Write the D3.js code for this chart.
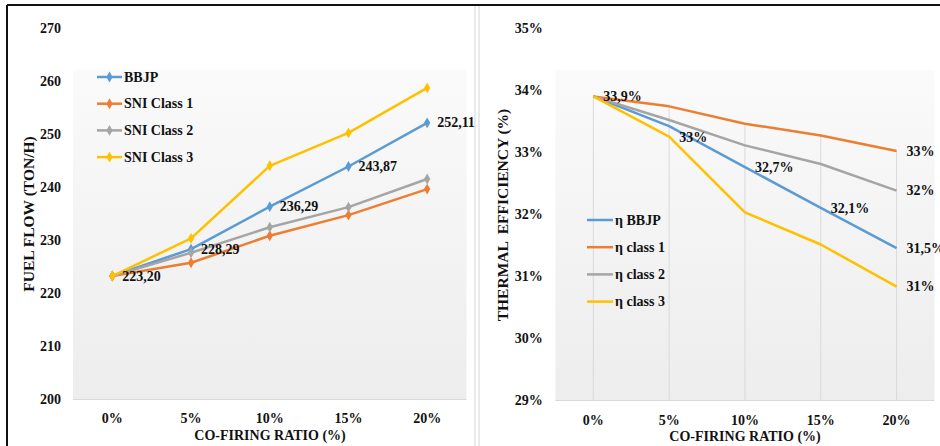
<!DOCTYPE html>
<html>
<head>
<meta charset="utf-8">
<script src="https://cdn.jsdelivr.net/npm/d3@7"></script>
<style>
  body { margin: 0; background: #fff; }
  text { font-family: "Liberation Serif", "Times New Roman", serif; font-weight: bold; fill: #111; }
</style>
</head>
<body>
<div class="chart"></div>
<script>
// categories and values
var categories = ["0%", "5%", "10%", "15%", "20%"];

var fuelNames = ["BBJP", "SNI Class 1", "SNI Class 2", "SNI Class 3"];
var fuelBBJP   = [223.20, 228.29, 236.29, 243.87, 252.11];
var fuelClass1 = [223.20, 225.7, 230.8, 234.7, 239.6];
var fuelClass2 = [223.20, 227.6, 232.4, 236.2, 241.5];
var fuelClass3 = [223.20, 230.3, 244.0, 250.2, 258.7];
var fuelTicks  = [200, 210, 220, 230, 240, 250, 260, 270];
var fuelLabels = ["223,20", "228,29", "236,29", "243,87", "252,11"];

var effNames  = ["η BBJP", "η class 1", "η class 2", "η class 3"];
var effBBJP   = [33.90, 33.42, 32.76, 32.10, 31.45];
var effClass1 = [33.90, 33.74, 33.46, 33.27, 33.02];
var effClass2 = [33.90, 33.52, 33.11, 32.81, 32.38];
var effClass3 = [33.90, 33.25, 32.03, 31.51, 30.83];
var effTicks  = [29, 30, 31, 32, 33, 34, 35];
// [series, category, text]
var effLabels = [[0, 0, "33,9%"], [0, 1, "33%"], [0, 2, "32,7%"], [0, 3, "32,1%"], [0, 4, "31,5%"],
                 [1, 4, "33%"], [2, 4, "32%"], [3, 4, "31%"]];

var colors = ["#5B9BD5", "#ED7D31", "#A5A5A5", "#FFC000"];

var width = 940, height = 446;

var svg = d3.select(".chart")
    .append("svg")
    .attr("width", width)
    .attr("height", height);

// plot background gradient
var defs = svg.append("defs");
var grad = defs.append("linearGradient")
    .attr("id", "plotbg")
    .attr("x1", 0).attr("y1", 0).attr("x2", 0).attr("y2", 1);
grad.append("stop").attr("offset", "0%").attr("stop-color", "#ffffff");
grad.append("stop").attr("offset", "11%").attr("stop-color", "#ffffff");
grad.append("stop").attr("offset", "11.5%").attr("stop-color", "#fafafa");
grad.append("stop").attr("offset", "100%").attr("stop-color", "#ededed");

//frame lines
svg.append("line").attr("x1", 7).attr("x2", 940).attr("y1", 5).attr("y2", 5)
    .attr("stroke", "#111").attr("stroke-width", 2);
svg.append("line").attr("x1", 7).attr("x2", 7).attr("y1", 5).attr("y2", 446)
    .attr("stroke", "#111").attr("stroke-width", 2);
[475, 479].forEach(function(x) {
    svg.append("line").attr("x1", x).attr("x2", x).attr("y1", 6).attr("y2", 446)
        .attr("stroke", "#d4d4d4").attr("stroke-width", 1);
});

function drawPanel(cfg) {
    var g = svg.append("g");

    var x = d3.scaleBand().domain(categories).range([cfg.left, cfg.right]);
    var y = d3.scaleLinear().domain(cfg.domain).range([cfg.bottom, cfg.top]);
    var cx = function(c) { return x(c) + x.bandwidth() / 2; };

    g.append("rect")
        .attr("x", cfg.left).attr("y", cfg.top)
        .attr("width", cfg.right - cfg.left).attr("height", cfg.bottom - cfg.top)
        .attr("fill", "url(#plotbg)");

    // drop lines (right chart only)
    if (cfg.dropLines) {
        categories.forEach(function(c, i) {
            var top = d3.max(cfg.series, function(s) { return s[i]; });
            g.append("line")
                .attr("x1", cx(c)).attr("x2", cx(c))
                .attr("y1", y(top)).attr("y2", cfg.bottom)
                .attr("stroke", "#d9d9d9").attr("stroke-width", 1);
        });
    }

    // baseline
    g.append("line")
        .attr("x1", cfg.left).attr("x2", cfg.right)
        .attr("y1", cfg.bottom + 0.5).attr("y2", cfg.bottom + 0.5)
        .attr("stroke", "#d9d9d9").attr("stroke-width", 1);

    // axes
    var yAxis = g.append("g")
        .attr("transform", "translate(" + cfg.left + ",0)")
        .call(d3.axisLeft(y).tickValues(cfg.ticks).tickSize(0).tickPadding(cfg.yPad).tickFormat(cfg.tickFormat));
    yAxis.select(".domain").remove();
    yAxis.selectAll("text").attr("font-size", 14).attr("fill", "#111")
        .style("font-family", "'Liberation Serif', serif").style("font-weight", "bold");

    var xAxis = g.append("g")
        .attr("transform", "translate(0," + cfg.bottom + ")")
        .call(d3.axisBottom(x).tickSize(0).tickPadding(cfg.xPad));
    xAxis.select(".domain").remove();
    xAxis.selectAll("text").attr("font-size", 14).attr("fill", "#111")
        .style("font-family", "'Liberation Serif', serif").style("font-weight", "bold");

    // titles
    g.append("text")
        .attr("x", cfg.xTitle[0]).attr("y", cfg.xTitle[1])
        .attr("text-anchor", "middle").attr("font-size", 14)
        .text("CO-FIRING RATIO (%)");
    g.append("text")
        .attr("transform", "translate(" + cfg.yTitle[0] + "," + cfg.yTitle[1] + ") rotate(-90)")
        .attr("text-anchor", "middle").attr("dy", "0.33em").attr("font-size", 15.5)
        .attr("xml:space", "preserve")
        .text(cfg.yTitleText);

    // lines
    var line = d3.line()
        .x(function(d, i) { return cx(categories[i]); })
        .y(function(d) { return y(d); });

    cfg.series.forEach(function(s, k) {
        g.append("path")
            .attr("d", line(s))
            .attr("fill", "none")
            .attr("stroke", colors[k])
            .attr("stroke-width", 2.5)
            .attr("stroke-linejoin", "round");
        if (cfg.markers) {
            g.selectAll(".m" + k)
                .data(s)
                .enter()
                .append("path")
                .attr("d", d3.symbol(d3.symbolDiamond).size(34))
                .attr("transform", function(d, i) { return "translate(" + cx(categories[i]) + "," + y(d) + ")"; })
                .attr("fill", colors[k]);
        }
    });

    // data labels
    cfg.labels.forEach(function(l) {
        var v = cfg.series[l[0]][l[1]];
        var nudge = (cfg.dropLines && l[0] === 0 && l[1] === 1) ? 11 : 0;
        g.append("text")
            .attr("x", cx(categories[l[1]]) + 10)
            .attr("y", y(v) + nudge)
            .attr("dy", "0.33em")
            .attr("font-size", 14)
            .text(l[2]);
    });

    // legend
    var legend = g.selectAll(".entry")
        .data(cfg.names)
        .enter()
        .append("g")
        .attr("transform", function(d, i) { return "translate(" + cfg.legend[0] + "," + (cfg.legend[1] + i * cfg.legend[2]) + ")"; });
    legend.append("line")
        .attr("x1", 0).attr("x2", cfg.legendLine)
        .attr("stroke", function(d, i) { return colors[i]; })
        .attr("stroke-width", 2.5);
    if (cfg.markers) {
        legend.append("path")
            .attr("d", d3.symbol(d3.symbolDiamond).size(34))
            .attr("transform", "translate(" + cfg.legendLine / 2 + ",0)")
            .attr("fill", function(d, i) { return colors[i]; });
    }
    legend.append("text")
        .attr("x", cfg.legendLine + 2)
        .attr("dy", "0.33em")
        .attr("font-size", 14)
        .text(function(d) { return d; });
}

drawPanel({
    left: 73, right: 466.5, top: 28, bottom: 399,
    domain: [200, 270], ticks: fuelTicks,
    tickFormat: function(d) { return d; },
    yPad: 12, xPad: 14,
    series: [fuelBBJP, fuelClass1, fuelClass2, fuelClass3],
    names: fuelNames,
    markers: true, dropLines: false,
    labels: fuelLabels.map(function(t, i) { return [0, i, t]; }),
    xTitle: [270, 440], yTitle: [29, 214], yTitleText: "FUEL FLOW (TON/H)",
    legend: [97, 77, 26.7], legendLine: 25
});

drawPanel({
    left: 555.4, right: 934.5, top: 28.3, bottom: 400,
    domain: [29, 35], ticks: effTicks,
    tickFormat: function(d) { return d + "%"; },
    yPad: 12.7, xPad: 15.5,
    series: [effBBJP, effClass1, effClass2, effClass3],
    names: effNames,
    markers: false, dropLines: true,
    labels: effLabels,
    xTitle: [745, 441], yTitle: [503, 215], yTitleText: "THERMAL  EFFICIENCY (%)",
    legend: [587, 220, 27.2], legendLine: 26
});
</script>
</body>
</html>
